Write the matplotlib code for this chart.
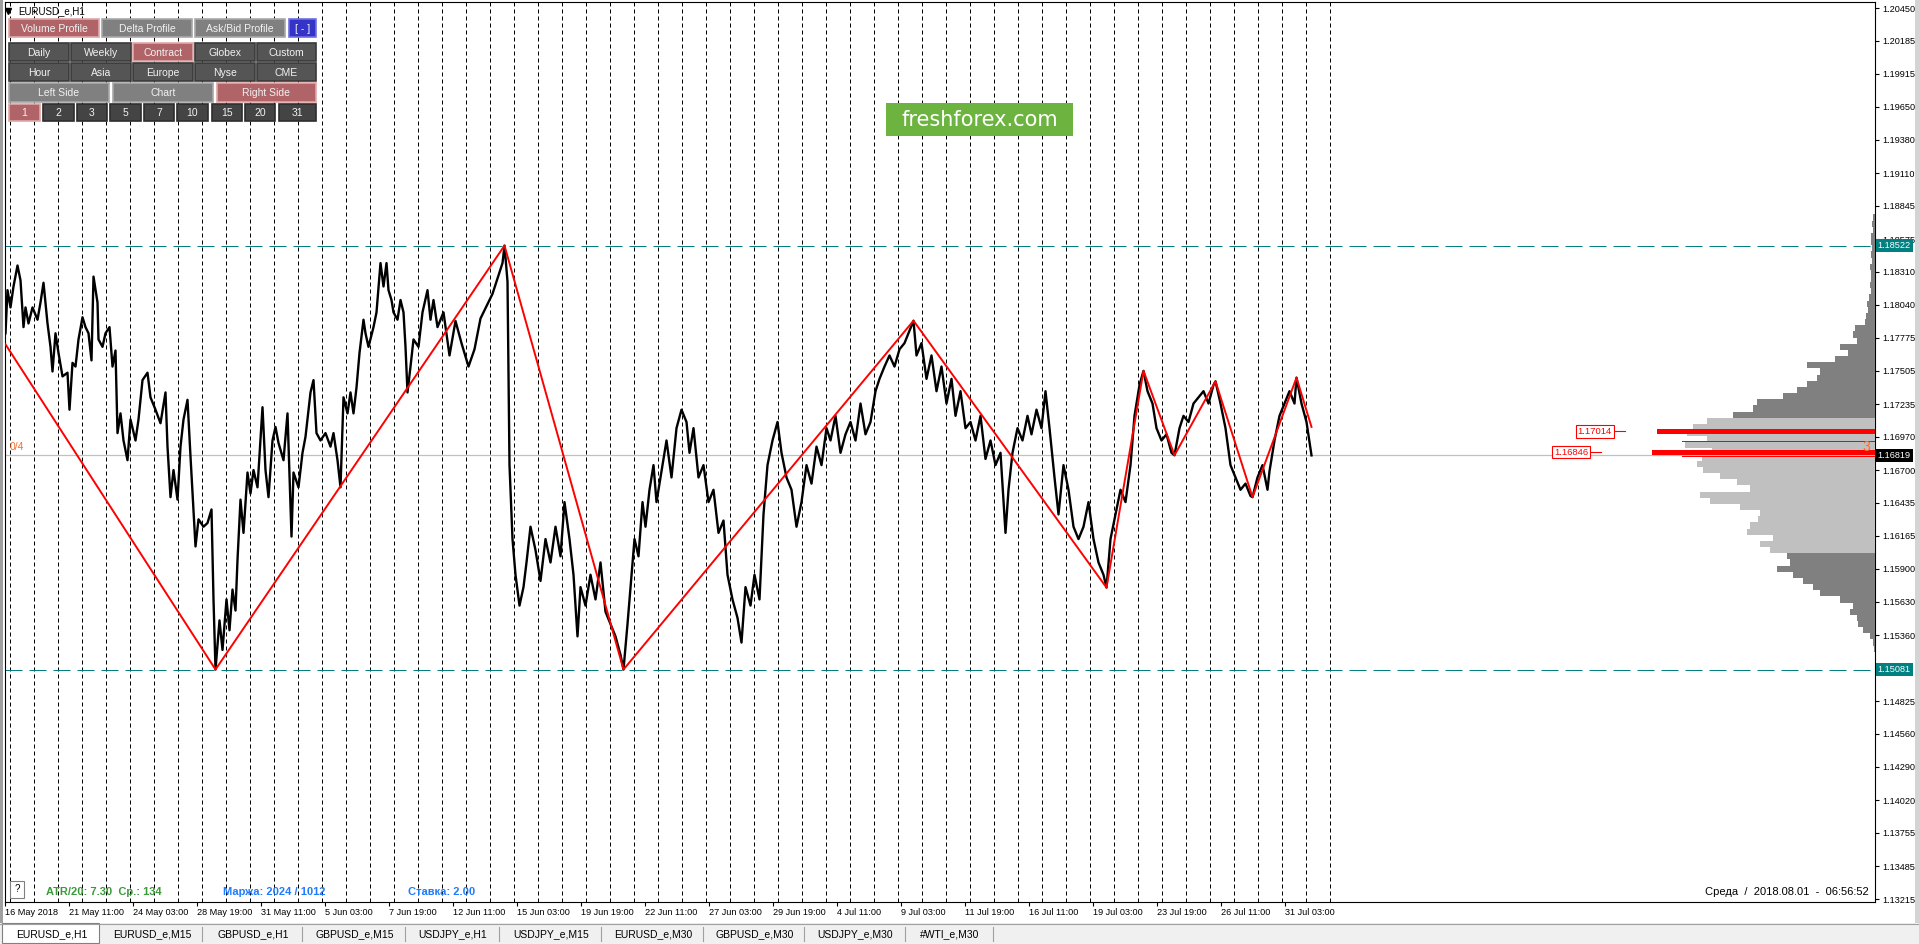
import numpy as np
import matplotlib
matplotlib.use("Agg")
import matplotlib.pyplot as plt
from matplotlib.patches import Rectangle

plt.rcParams['font.family'] = ['Liberation Sans', 'DejaVu Sans']

price_bars = [20, 22, 25, 28, 32, 35, 38, 40, 43, 47,
              52, 55, 58, 62, 65, 67, 70, 73, 77, 82,
              84, 87, 90, 93, 97, 100, 103, 106, 108, 112,
              113, 117, 120, 124, 127, 130, 132, 135, 138, 142,
              145, 150, 153, 157, 162, 165, 170, 175, 180, 182,
              185, 188, 192, 195, 198, 202, 205, 208, 210, 213,
              218, 222, 226, 228, 230, 234, 237, 241, 244, 247,
              250, 252, 255, 258, 262, 265, 268, 272, 277, 280,
              283, 287, 290, 293, 298, 302, 306, 308, 313, 317,
              320, 325, 328, 331, 335, 340, 345, 348, 352, 355,
              358, 362, 365, 368, 371, 374, 378, 380, 383, 388,
              391, 395, 398, 401, 403, 406, 408, 412, 415, 418,
              420, 422, 425, 428, 433, 437, 442, 445, 448, 452,
              458, 464, 470, 476, 483, 489, 495, 501, 507, 513,
              517, 519, 522, 524, 527, 530, 534, 538, 541, 545,
              550, 555, 560, 565, 570, 575, 579, 584, 588, 592,
              595, 600, 605, 610, 615, 620, 625, 630, 635, 638,
              642, 646, 649, 653, 657, 660, 664, 668, 671, 676,
              681, 686, 691, 696, 701, 704, 708, 713, 718, 723,
              728, 733, 738, 742, 747, 752, 756, 760, 765, 769,
              774, 778, 782, 787, 792, 796, 801, 806, 811, 816,
              821, 826, 831, 836, 841, 845, 850, 855, 860, 865,
              870, 875, 880, 885, 890, 894, 899, 904, 909, 914,
              919, 924, 928, 931, 936, 941, 946, 951, 956, 961,
              966, 970, 975, 980, 985, 990, 995, 1000, 1005, 1010,
              1015, 1020, 1023, 1027, 1032, 1037, 1042, 1046, 1051, 1056,
              1060, 1064, 1069, 1073, 1078, 1083, 1088, 1093, 1098, 1103,
              1108, 1113, 1118, 1121, 1125, 1130, 1135, 1140, 1145, 1149,
              1154, 1158, 1162, 1167, 1171, 1176, 1181, 1186, 1189, 1194,
              1198, 1203, 1208, 1213, 1218, 1223, 1228, 1230, 1235, 1240,
              1245, 1250, 1255, 1260, 1265, 1267, 1272, 1277, 1282, 1284,
              1289, 1294, 1299, 1304, 1309, 1311, 1316, 1321, 1326]
price_vals = [1.1781, 1.1816, 1.1802, 1.1819, 1.1836, 1.1824, 1.1786, 1.1802, 1.1789, 1.1802,
              1.1792, 1.1806, 1.1822, 1.1789, 1.1770, 1.1750, 1.1781, 1.1765, 1.1746, 1.1749,
              1.1719, 1.1757, 1.1754, 1.1776, 1.1794, 1.1786, 1.1781, 1.1759, 1.1827, 1.1806,
              1.1776, 1.1770, 1.1781, 1.1786, 1.1754, 1.1767, 1.1700, 1.1716, 1.1694, 1.1678,
              1.1711, 1.1694, 1.1711, 1.1743, 1.1749, 1.1729, 1.1719, 1.1708, 1.1733, 1.1689,
              1.1648, 1.1670, 1.1646, 1.1689, 1.1711, 1.1727, 1.1681, 1.1638, 1.1608, 1.1630,
              1.1624, 1.1627, 1.1638, 1.1565, 1.15081, 1.1548, 1.1524, 1.1565, 1.1540, 1.1573,
              1.1556, 1.1597, 1.1646, 1.1619, 1.1668, 1.1651, 1.1670, 1.1656, 1.1721, 1.1670,
              1.1648, 1.1694, 1.1705, 1.1692, 1.1678, 1.1716, 1.1616, 1.1668, 1.1656, 1.1684,
              1.1697, 1.1733, 1.1743, 1.1700, 1.1694, 1.1700, 1.1689, 1.1700, 1.1678, 1.1656,
              1.1729, 1.1716, 1.1733, 1.1716, 1.1737, 1.1765, 1.1792, 1.1781, 1.1770, 1.1786,
              1.1798, 1.1838, 1.1819, 1.1838, 1.1816, 1.1808, 1.1798, 1.1792, 1.1808, 1.1798,
              1.1770, 1.1733, 1.1754, 1.1776, 1.1770, 1.1798, 1.1816, 1.1792, 1.1808, 1.1786,
              1.1798, 1.1763, 1.1791, 1.1773, 1.1754, 1.1768, 1.1793, 1.1803, 1.1813, 1.1828,
              1.1838, 1.18522, 1.1823, 1.1674, 1.1614, 1.1585, 1.1560, 1.1575, 1.1595, 1.1624,
              1.1605, 1.1580, 1.1614, 1.1595, 1.1624, 1.1600, 1.1644, 1.1614, 1.1585, 1.1535,
              1.1575, 1.1560, 1.1585, 1.1565, 1.1595, 1.1555, 1.1545, 1.1535, 1.1520, 1.15081,
              1.1545, 1.1585, 1.1614, 1.1600, 1.1644, 1.1624, 1.1654, 1.1674, 1.1644, 1.1669,
              1.1694, 1.1664, 1.1704, 1.1719, 1.1709, 1.1684, 1.1704, 1.1664, 1.1674, 1.1644,
              1.1654, 1.1619, 1.1629, 1.1585, 1.1565, 1.1550, 1.1530, 1.1575, 1.1560, 1.1585,
              1.1565, 1.1634, 1.1674, 1.1694, 1.1709, 1.1684, 1.1664, 1.1654, 1.1624, 1.1644,
              1.1674, 1.1659, 1.1689, 1.1674, 1.1704, 1.1694, 1.1714, 1.1684, 1.1699, 1.1709,
              1.1694, 1.1724, 1.1699, 1.1709, 1.1734, 1.1744, 1.1754, 1.1763, 1.1754, 1.1768,
              1.1773, 1.1783, 1.17912, 1.1763, 1.1773, 1.1744, 1.1763, 1.1734, 1.1754, 1.1724,
              1.1744, 1.1714, 1.1734, 1.1704, 1.1709, 1.1694, 1.1714, 1.1679, 1.1694, 1.1674,
              1.1684, 1.1619, 1.1654, 1.1684, 1.1704, 1.1694, 1.1714, 1.1699, 1.1719, 1.1704,
              1.1734, 1.1704, 1.1664, 1.1634, 1.1674, 1.1654, 1.1624, 1.1614, 1.1624, 1.1644,
              1.1614, 1.1595, 1.1585, 1.15746, 1.1614, 1.1634, 1.1654, 1.1644, 1.1674, 1.1714,
              1.1739, 1.17505, 1.1734, 1.1724, 1.1704, 1.1694, 1.1699, 1.1684, 1.1682, 1.1704,
              1.1714, 1.1709, 1.1724, 1.1729, 1.1734, 1.1724, 1.1739, 1.1742, 1.1724, 1.1704,
              1.1674, 1.1664, 1.1654, 1.1659, 1.1649, 1.1648, 1.1664, 1.1674, 1.1654, 1.1669,
              1.1694, 1.1714, 1.1724, 1.1734, 1.1724, 1.1745, 1.1724, 1.1709, 1.16819]

# ZigZag pivots
zz_bars = [20, 230, 519, 638, 928, 1121, 1158, 1189, 1230, 1267, 1311, 1326]
zz_vals = [1.1772, 1.15081, 1.18522, 1.15081, 1.17912, 1.15746, 1.17505, 1.1682, 1.1742, 1.1648, 1.1745, 1.1705]

resist = 1.18522
support = 1.15081
bid = 1.16819

# volume profile (right side)
profile_prices = [1.1875, 1.1870, 1.1865, 1.1860, 1.1855, 1.1850, 1.1845, 1.1840, 1.1835, 1.1830,
                  1.1825, 1.1820, 1.1815, 1.1810, 1.1805, 1.1800, 1.1795, 1.1790, 1.1785, 1.1780,
                  1.1775, 1.1770, 1.1765, 1.1760, 1.1755, 1.1750, 1.1745, 1.1740, 1.1735, 1.1730,
                  1.1725, 1.1720, 1.1715, 1.1710, 1.1705, 1.1700, 1.1695, 1.1690, 1.1685, 1.1680,
                  1.1675, 1.1670, 1.1665, 1.1660, 1.1655, 1.1650, 1.1645, 1.1640, 1.1635, 1.1630,
                  1.1625, 1.1620, 1.1615, 1.1610, 1.1605, 1.1600, 1.1595, 1.1590, 1.1585, 1.1580,
                  1.1575, 1.1570, 1.1565, 1.1560, 1.1555, 1.1550, 1.1545, 1.1540, 1.1535, 1.1530,
                  1.1525]
profile_vol = [2, 3, 2, 4, 4, 3, 4, 3, 5, 4,
               4, 5, 4, 6, 8, 7, 9, 10, 20, 22,
               18, 35, 27, 40, 68, 55, 58, 68, 78, 92,
               118, 122, 142, 168, 182, 188, 168, 190, 163, 173,
               178, 172, 155, 138, 125, 175, 165, 135, 115, 117,
               125, 128, 102, 115, 105, 88, 85, 98, 82, 72,
               62, 55, 35, 22, 25, 18, 17, 12, 5, 2,
               1]
va_high = 1.1714
va_low = 1.1604
poc_prices = [1.17014, 1.16846]
poc_vol = [218, 223]
poc_thin_prices = [1.17030, 1.16928, 1.16812]
poc_thin_vol = [180, 193, 193]

tick_prices = [1.20450, 1.20185, 1.19915, 1.19650, 1.19380, 1.19110, 1.18845, 1.18575,
               1.18310, 1.18040, 1.17775, 1.17505, 1.17235, 1.16970, 1.16700, 1.16435,
               1.16165, 1.15900, 1.15630, 1.15360, 1.14825, 1.14560, 1.14290,
               1.14020, 1.13755, 1.13485, 1.13215]
time_bars = [83, 147, 211, 275, 339, 403, 467, 531, 595, 659,
             723, 787, 851, 915, 979, 1043, 1107, 1171, 1235, 1299]
time_labels = ['21 May 11:00', '24 May 03:00', '28 May 19:00', '31 May 11:00', '5 Jun 03:00',
               '7 Jun 19:00', '12 Jun 11:00', '15 Jun 03:00', '19 Jun 19:00', '22 Jun 11:00',
               '27 Jun 03:00', '29 Jun 19:00', '4 Jul 11:00', '9 Jul 03:00', '11 Jul 19:00',
               '16 Jul 11:00', '19 Jul 03:00', '23 Jul 19:00', '26 Jul 11:00', '31 Jul 03:00']

W, H = 1919, 944
fig = plt.figure(figsize=(W / 100, H / 100), dpi=100, facecolor='white')

# main chart area: px 5..1875 horizontally, 2..902 vertically
ax = fig.add_axes([5 / W, 42 / H, 1870 / W, 900 / H])
ax.set_xlim(19.5, 1889.5)
ax.set_ylim(1.131943, 1.204987)
for s in ax.spines.values():
    s.set_color('black')
    s.set_linewidth(0.8)

# day separators
for b in np.arange(24, 1345, 24):
    ax.axvline(b, color='black', lw=0.72, ls=(0, (4, 3)), zorder=1)

ax.axhline(resist, color='#008080', lw=0.72, ls=(0, (17, 7)), zorder=2)
ax.axhline(support, color='#008080', lw=0.72, ls=(0, (17, 7)), zorder=2)
ax.axhline(bid, color='#c0c0c0', lw=0.9, zorder=2)

ax.plot(price_bars, price_vals, color='black', lw=1.7, zorder=3)
ax.plot(zz_bars, zz_vals, color='red', lw=1.4, zorder=4)

ax.text(24.5, 1.16887, '0/4', color='#ff6a2a', fontsize=7.5, va='center', ha='left')

ax.yaxis.tick_right()
ax.set_yticks(tick_prices)
ax.set_yticklabels(['%.5f' % p for p in tick_prices])
ax.tick_params(axis='y', length=3, pad=2.5, labelsize=6.6, direction='out', width=0.8)

ax.set_xticks([19.5] + time_bars)
ax.set_xticklabels(['16 May 2018'] + time_labels)
ax.tick_params(axis='x', length=3, pad=1.5, labelsize=6.6, direction='out', width=0.8)
for lbl in ax.get_xticklabels():
    lbl.set_ha('left')

box = dict(boxstyle='square,pad=0.22', ec='none')
for p, fc in [(resist, '#008080'), (support, '#008080'), (bid, 'black')]:
    ax.annotate('%.5f' % p, xy=(1, p), xycoords=('axes fraction', 'data'),
                xytext=(2, 0), textcoords='offset points', ha='left', va='center',
                color='white', fontsize=6.6, bbox=dict(box, fc=fc),
                annotation_clip=False, zorder=10)

# volume profile axes, x in volume units, drawn leftwards from the price axis
pax = fig.add_axes([1575 / W, 42 / H, 300 / W, 900 / H], sharey=ax)
pax.set_xlim(300, 0)
pax.axis('off')
pax.patch.set_alpha(0)
cols = ['#c0c0c0' if va_low <= p <= va_high else '#808080' for p in profile_prices]
pax.barh(profile_prices, profile_vol, height=0.0005, color=cols, linewidth=0)
pax.barh(poc_prices, poc_vol, height=0.0004, color='red', linewidth=0)
pax.barh(poc_thin_prices, poc_thin_vol, height=0.00008, color='red', linewidth=0)
for p, v in zip(poc_prices, [263, 287]):
    pax.text(v, p, '%.5f' % p, ha='right', va='center', color='red', fontsize=6.8,
             bbox=dict(boxstyle='square,pad=0.2', fc='white', ec='red', lw=0.8), clip_on=False)
    pax.plot([v - 2, v - 13], [p, p], color='red', lw=0.8, clip_on=False)
pax.text(9, 1.16887, '3', color='#ff6a2a', fontsize=10, ha='center', va='center')

# interface overlay in pixel coordinates
ui = fig.add_axes([0, 0, 1, 1], zorder=5)
ui.set_xlim(0, W)
ui.set_ylim(H, 0)
ui.axis('off')
ui.patch.set_alpha(0)

ui.add_patch(Rectangle((0, 0), 3, 923, fc='#a0a0a0', ec='none'))
ui.add_patch(Rectangle((1915, 0), 4, 923, fc='#d4d4d4', ec='none'))

ui.plot([8], [11], marker='v', color='black', ms=4)
ui.text(18, 11, 'EURUSD_e,H1', fontsize=7, va='center', ha='left')

red = ('#b06468', '#e0a8a8')
gray = ('#808080', '#a8a8a8')
dark = ('#555555', '#3a3a3a')
darker = ('#444444', '#2e2e2e')
blue = ('#3434c8', '#7070e0')
rows = [
    (19, 18, [('Volume Profile', 9, 99, red), ('Delta Profile', 102, 192, gray),
              ('Ask/Bid Profile', 195, 285, gray), ('[ - ]', 289, 316, blue)]),
    (43, 18, [('Daily', 9, 69, dark), ('Weekly', 71, 131, dark), ('Contract', 133, 193, red),
              ('Globex', 195, 255, dark), ('Custom', 257, 316, dark)]),
    (63, 18, [('Hour', 9, 69, dark), ('Asia', 71, 131, dark), ('Europe', 133, 193, dark),
              ('Nyse', 195, 255, dark), ('CME', 257, 316, dark)]),
    (83, 19, [('Left Side', 9, 109, gray), ('Chart', 113, 213, gray), ('Right Side', 217, 316, red)]),
    (104, 17, [('1', 9, 40, red), ('2', 43, 74, darker), ('3', 77, 107, darker),
               ('5', 110, 141, darker), ('7', 144, 174, darker), ('10', 177, 208, darker),
               ('15', 212, 242, darker), ('20', 245, 275, darker), ('31', 279, 316, darker)]),
]
for y0, h, btns in rows:
    for label, x0, x1, (fc, ec) in btns:
        ui.add_patch(Rectangle((x0, y0), x1 - x0, h, fc=fc, ec=ec, lw=1.2))
        ui.text((x0 + x1) / 2, y0 + h / 2 + 0.5, label, color='#f2f2f2', fontsize=7.5,
                ha='center', va='center')

# logo
ui.add_patch(Rectangle((886, 103), 187, 33, fc='#6db33f', ec='none'))
ui.text(979.5, 119.5, 'freshforex.com', color='white', fontsize=15, ha='center', va='center',
        family=['DejaVu Sans'])

# bottom status line
ui.add_patch(Rectangle((10, 881), 14, 17, fc='white', ec='#808080', lw=0.8))
ui.text(17, 889.5, '?', fontsize=7, ha='center', va='center')
ui.text(46, 892, 'ATR/20: 7.30  Ср.: 134', color='#3a9a3a', fontsize=8, weight='bold',
        ha='left', va='center')
ui.text(223, 892, 'Маржа: 2024 / 1012', color='#1e7bff', fontsize=8, weight='bold',
        ha='left', va='center')
ui.text(408, 892, 'Ставка: 2.00', color='#1e7bff', fontsize=8, weight='bold',
        ha='left', va='center')
ui.text(1869, 892, 'Среда  /  2018.08.01  -  06:56:52', color='black', fontsize=8,
        ha='right', va='center')

# tab bar
tabs = ['EURUSD_e,H1', 'EURUSD_e,M15', 'GBPUSD_e,H1', 'GBPUSD_e,M15', 'USDJPY_e,H1',
        'USDJPY_e,M15', 'EURUSD_e,M30', 'GBPUSD_e,M30', 'USDJPY_e,M30', '#WTI_e,M30']
edges = [2, 101, 203, 303, 406, 500, 602, 704, 805, 906, 994]
ui.add_patch(Rectangle((0, 923), W, 21, fc='#f0f0f0', ec='none'))
ui.plot([0, W], [923.5, 923.5], color='#a0a0a0', lw=0.8)
for i, t in enumerate(tabs):
    x0, x1 = edges[i], edges[i + 1]
    if i == 0:
        ui.add_patch(Rectangle((x0, 923), x1 - x0 - 2, 20, fc='white', ec='#808080', lw=0.8))
    else:
        ui.plot([x1 - 1, x1 - 1], [927, 941], color='#a0a0a0', lw=0.8)
    ui.text((x0 + x1) / 2, 934, t, fontsize=7.5, ha='center', va='center', color='black')

fig.savefig('out.png', dpi=100, facecolor='white')
